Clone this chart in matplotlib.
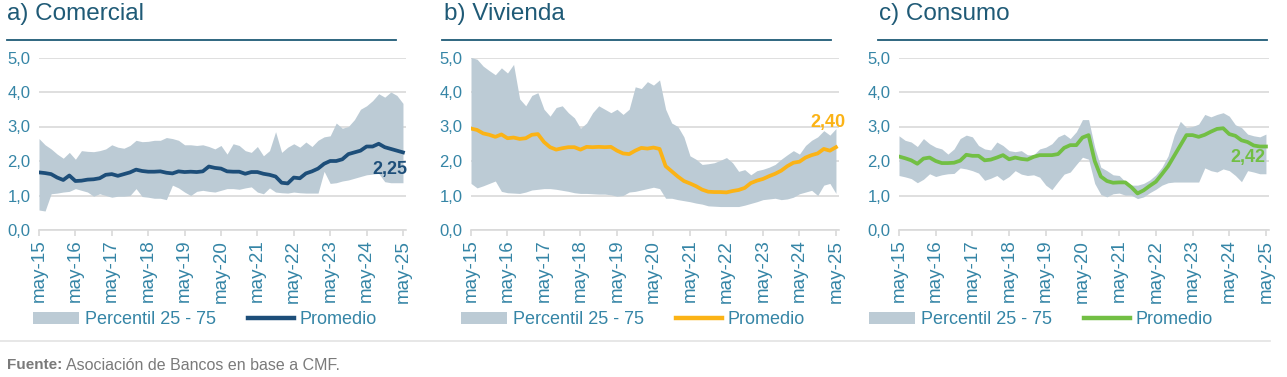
import numpy as np
import matplotlib.pyplot as plt
from matplotlib.patches import Patch
from matplotlib.lines import Line2D

plt.rcParams['font.family'] = ['Liberation Sans', 'DejaVu Sans']

# meses desde may-15, cada 2 meses
meses = np.arange(0, 121, 2)
ticks_x = np.arange(0, 121, 12)
ticks_lbl = ['may-15', 'may-16', 'may-17', 'may-18', 'may-19', 'may-20',
             'may-21', 'may-22', 'may-23', 'may-24', 'may-25']

# a) Comercial
com_prom = [1.67, 1.65, 1.62, 1.52, 1.45, 1.58, 1.42, 1.43, 1.46, 1.47, 1.50,
            1.60, 1.62, 1.57, 1.62, 1.67, 1.75, 1.71, 1.69, 1.69, 1.70, 1.66,
            1.64, 1.70, 1.68, 1.69, 1.68, 1.70, 1.84, 1.80, 1.78, 1.70, 1.69,
            1.69, 1.63, 1.68, 1.68, 1.63, 1.60, 1.55, 1.37, 1.35, 1.52, 1.50,
            1.64, 1.70, 1.78, 1.92, 2.00, 2.00, 2.05, 2.20, 2.25, 2.30, 2.42,
            2.42, 2.50, 2.40, 2.35, 2.30, 2.25]
com_p75 = [2.65, 2.47, 2.35, 2.20, 2.08, 2.25, 2.05, 2.30, 2.28, 2.27, 2.30,
           2.35, 2.47, 2.40, 2.37, 2.45, 2.60, 2.56, 2.57, 2.60, 2.60, 2.68,
           2.65, 2.60, 2.47, 2.47, 2.45, 2.47, 2.42, 2.35, 2.45, 2.20, 2.50,
           2.45, 2.30, 2.25, 2.42, 2.15, 2.30, 2.85, 2.25, 2.40, 2.50, 2.40,
           2.55, 2.42, 2.60, 2.70, 2.73, 3.10, 2.95, 3.00, 3.20, 3.50, 3.60,
           3.75, 3.95, 3.85, 4.00, 3.90, 3.67]
com_p25 = [0.58, 0.55, 1.05, 1.07, 1.10, 1.12, 1.20, 1.15, 1.10, 0.98, 1.05,
           1.00, 0.95, 0.98, 0.98, 1.00, 1.20, 0.97, 0.95, 0.92, 0.92, 0.88,
           1.30, 1.22, 1.10, 1.00, 1.12, 1.15, 1.12, 1.10, 1.15, 1.20, 1.20,
           1.18, 1.22, 1.25, 1.10, 1.05, 1.22, 1.10, 1.08, 1.07, 1.10, 1.08,
           1.07, 1.07, 1.07, 1.70, 1.35, 1.37, 1.42, 1.45, 1.50, 1.55, 1.60,
           1.62, 1.64, 1.40, 1.37, 1.37, 1.37]

# b) Vivienda
viv_prom = [2.94, 2.90, 2.80, 2.76, 2.70, 2.77, 2.66, 2.68, 2.64, 2.66, 2.76,
            2.78, 2.55, 2.40, 2.33, 2.37, 2.40, 2.40, 2.33, 2.41, 2.40, 2.41,
            2.40, 2.41, 2.30, 2.22, 2.20, 2.30, 2.38, 2.36, 2.39, 2.35, 1.85,
            1.70, 1.55, 1.42, 1.35, 1.27, 1.17, 1.11, 1.10, 1.10, 1.09, 1.13,
            1.16, 1.22, 1.36, 1.43, 1.48, 1.56, 1.63, 1.72, 1.85, 1.95, 1.98,
            2.10, 2.17, 2.22, 2.35, 2.30, 2.40]
viv_p75 = [5.00, 4.95, 4.75, 4.62, 4.50, 4.70, 4.55, 4.80, 3.80, 3.60, 3.90,
           3.98, 3.50, 3.30, 3.55, 3.60, 3.40, 3.25, 2.95, 3.10, 3.40, 3.60,
           3.50, 3.40, 3.50, 3.35, 3.50, 4.15, 4.10, 4.30, 4.20, 4.35, 3.50,
           3.10, 3.00, 2.70, 2.15, 2.05, 1.90, 1.92, 1.95, 2.02, 2.10, 1.95,
           1.70, 1.75, 1.60, 1.72, 1.76, 1.82, 1.90, 2.05, 2.18, 2.30, 2.20,
           2.45, 2.60, 2.70, 2.88, 2.75, 2.94]
viv_p25 = [1.35, 1.22, 1.28, 1.35, 1.42, 1.12, 1.08, 1.07, 1.06, 1.10, 1.16,
           1.18, 1.20, 1.20, 1.18, 1.15, 1.12, 1.08, 1.06, 1.06, 1.05, 1.04,
           1.04, 1.02, 0.98, 1.00, 1.10, 1.12, 1.16, 1.20, 1.24, 1.20, 0.92,
           0.92, 0.88, 0.85, 0.82, 0.78, 0.75, 0.70, 0.69, 0.68, 0.68, 0.68,
           0.68, 0.72, 0.77, 0.82, 0.88, 0.90, 0.92, 0.88, 0.90, 0.95, 1.05,
           1.10, 1.15, 1.00, 1.30, 1.35, 1.06]

# c) Consumo
con_prom = [2.13, 2.08, 2.02, 1.92, 2.07, 2.10, 2.00, 1.94, 1.94, 1.95, 2.01,
            2.18, 2.15, 2.15, 2.02, 2.04, 2.10, 2.17, 2.05, 2.10, 2.06, 2.04,
            2.12, 2.17, 2.17, 2.17, 2.20, 2.38, 2.46, 2.46, 2.68, 2.75, 2.00,
            1.55, 1.42, 1.37, 1.38, 1.38, 1.24, 1.06, 1.15, 1.28, 1.40, 1.62,
            1.85, 2.15, 2.45, 2.75, 2.75, 2.70, 2.76, 2.85, 2.93, 2.95, 2.78,
            2.73, 2.60, 2.55, 2.45, 2.42, 2.42]
con_p75 = [2.73, 2.60, 2.55, 2.42, 2.65, 2.50, 2.40, 2.35, 2.20, 2.35, 2.65,
           2.75, 2.70, 2.45, 2.35, 2.32, 2.55, 2.45, 2.30, 2.27, 2.30, 2.18,
           2.18, 2.35, 2.40, 2.50, 2.70, 2.78, 2.65, 2.85, 3.20, 3.20, 2.40,
           1.82, 1.72, 1.60, 1.58, 1.40, 1.30, 1.30, 1.35, 1.45, 1.60, 1.82,
           2.15, 2.75, 3.15, 2.97, 3.00, 3.07, 3.35, 3.28, 3.35, 3.40, 3.30,
           3.05, 2.97, 2.78, 2.73, 2.70, 2.78]
con_p25 = [1.58, 1.54, 1.49, 1.37, 1.47, 1.63, 1.55, 1.60, 1.63, 1.64, 1.80,
           1.77, 1.72, 1.65, 1.44, 1.50, 1.58, 1.44, 1.55, 1.72, 1.62, 1.58,
           1.60, 1.53, 1.30, 1.17, 1.40, 1.62, 1.68, 1.90, 2.11, 2.05, 1.35,
           1.03, 0.96, 1.05, 1.07, 1.01, 1.01, 0.91, 0.96, 1.08, 1.18, 1.30,
           1.37, 1.39, 1.39, 1.39, 1.39, 1.39, 1.80, 1.72, 1.68, 1.77, 1.72,
           1.58, 1.40, 1.72, 1.68, 1.63, 1.63]

banda = '#bccbd5'
teal = '#3585a6'
titulo_col = '#1f5a76'
grid_col = '#d9d9d9'

paneles = [
    ('a) Comercial', com_prom, com_p25, com_p75, '#1d4e79', '2,25', (121.6, 1.74)),
    ('b) Vivienda', viv_prom, viv_p25, viv_p75, '#fbb316', '2,40', (123.0, 3.13)),
    ('c) Consumo', con_prom, con_p25, con_p75, '#72bf44', '2,42', (119.7, 2.09)),
]
# posiciones en pixeles: izquierda del eje, derecha, titulo, linea de titulo, leyenda
px = [(39, 406, 7, 7, 396, 33), (471, 839, 444, 442, 831, 461), (899, 1269, 879, 878, 1267, 869)]

W, H = 1287, 377
fig = plt.figure(figsize=(W / 100, H / 100), dpi=100)

for (titulo, prom, p25, p75, color, lbl, pos), (x0, x1, tx, lx0, lx1, legx) in zip(paneles, px):
    ax = fig.add_axes([x0 / W, 1 - 230 / H, (x1 - x0) / W, (230 - 57.5) / H])
    ax.fill_between(meses, p25, p75, color=banda, lw=0, zorder=2)
    ax.plot(meses, prom, color=color, lw=2.7, zorder=3, solid_joinstyle='round')
    ax.text(pos[0], pos[1], lbl, color=color, fontsize=13, fontweight='bold',
            ha='right', va='center', zorder=4)
    ax.set_xlim(0, 121)
    ax.set_ylim(0, 5)
    ax.set_yticks([0, 1, 2, 3, 4, 5])
    ax.set_yticklabels(['0,0', '1,0', '2,0', '3,0', '4,0', '5,0'])
    ax.set_xticks(ticks_x)
    ax.set_xticklabels(ticks_lbl, rotation=90)
    ax.grid(axis='y', color=grid_col, lw=1.2, zorder=1)
    for s in ['top', 'right', 'left']:
        ax.spines[s].set_visible(False)
    ax.spines['bottom'].set_color(grid_col)
    ax.spines['bottom'].set_linewidth(1.2)
    ax.tick_params(axis='y', length=0, pad=6, labelsize=12, labelcolor=teal)
    ax.tick_params(axis='x', length=4, width=1.2, color=grid_col, pad=3,
                   labelsize=13.5, labelcolor=teal)

    fig.text(tx / W, 1 - 14 / H, titulo, fontsize=17.5, color=titulo_col, va='center', ha='left')
    fig.add_artist(Line2D([lx0 / W, lx1 / W], [1 - 40 / H] * 2, color=titulo_col, lw=1.3))

    handles = [Patch(facecolor=banda, edgecolor='none'), Line2D([], [], color=color, lw=3.2)]
    leg = ax.legend(handles, ['Percentil 25 - 75', 'Promedio'], loc='center left',
                    bbox_to_anchor=(legx / W, 1 - 320 / H), bbox_transform=fig.transFigure,
                    ncol=2, frameon=False, fontsize=13, handlelength=2.55,
                    handleheight=0.6, handletextpad=0.33, columnspacing=1.75,
                    borderpad=0, borderaxespad=0, labelcolor=teal)

fig.add_artist(Line2D([0, 1270 / W], [1 - 341 / H] * 2, color='#e3e3e3', lw=1.2))
fig.text(7 / W, 1 - 365 / H, 'Fuente:', fontsize=11, color='#7a7a7a', fontweight='bold',
         va='center', ha='left')
fig.text(66 / W, 1 - 365 / H, 'Asociación de Bancos en base a CMF.', fontsize=11.5,
         color='#7a7a7a', va='center', ha='left')

fig.savefig('out.png', dpi=100)
